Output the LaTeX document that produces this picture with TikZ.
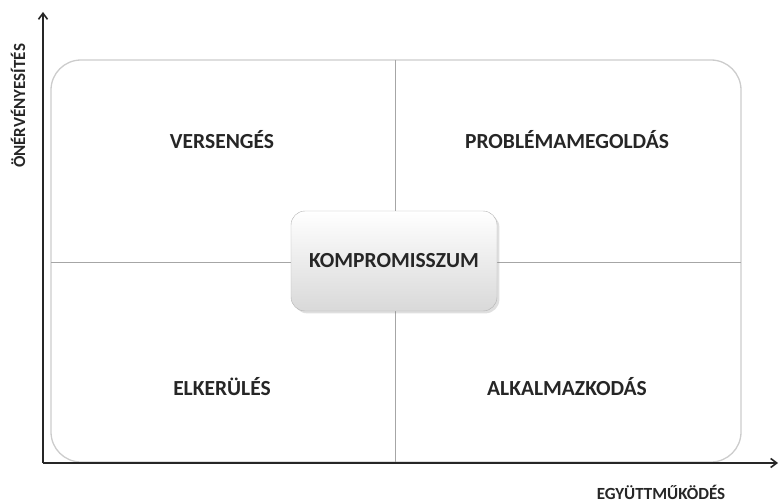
\documentclass[tikz,border=0pt]{standalone}
\usepackage{fontspec}
\setmainfont{Carlito}
\usetikzlibrary{arrows.meta,shadows}
\begin{document}
\begin{tikzpicture}[x=1pt,y=-1pt,>={Straight Barb[length=6pt,width=9pt]},
    quadlabel/.style={font=\bfseries\fontsize{21.5}{23}\selectfont,text=black!85},
    axislabel/.style={font=\bfseries\fontsize{17}{19}\selectfont,text=black!85}]
            \useasboundingbox (0,0) rectangle (779,503);
            %\draw[ultra thin,gray!20] (0,0) grid[step=50] (779,503);
            \draw[gray!40,line width=1.3pt,rounded corners=30pt] (51,60) rectangle (741,462);
            \draw[gray!70] (395,60)-- (395,462);
            \draw[gray!70] (51,262)-- (741,262);
            \coordinate (origin) at (43,463);
            \coordinate (ytip) at (43,12);
            \coordinate (xtip) at (778,463);
            \draw [->,line width=1.6pt,black!85] (origin) -- (ytip);
            \draw [->,line width=1.6pt,black!85] (origin) -- (xtip);
            \node[axislabel,rotate=90] (onerv) at (18,106) {ÖNÉRVÉNYESÍTÉS};
            \node[axislabel] (egyutt) at (661,492) {EGYÜTTMŰKÖDÉS};
            \node[quadlabel] (verseng) at (222,140) {VERSENGÉS};
            \node[quadlabel] (problema) at (567,140) {PROBLÉMAMEGOLDÁS};
            \node[quadlabel] (elkerul) at (222,387) {ELKERÜLÉS};
            \node[quadlabel] (alkalm) at (567,387) {ALKALMAZKODÁS};
            \node[quadlabel,draw=gray!60,rounded corners=14pt,top color=white,bottom color=gray!30,
                  minimum width=206pt,minimum height=100pt,drop shadow={opacity=0.25}] (kompr) at (394,261) {KOMPROMISSZUM};
    \end{tikzpicture}
\end{document}
